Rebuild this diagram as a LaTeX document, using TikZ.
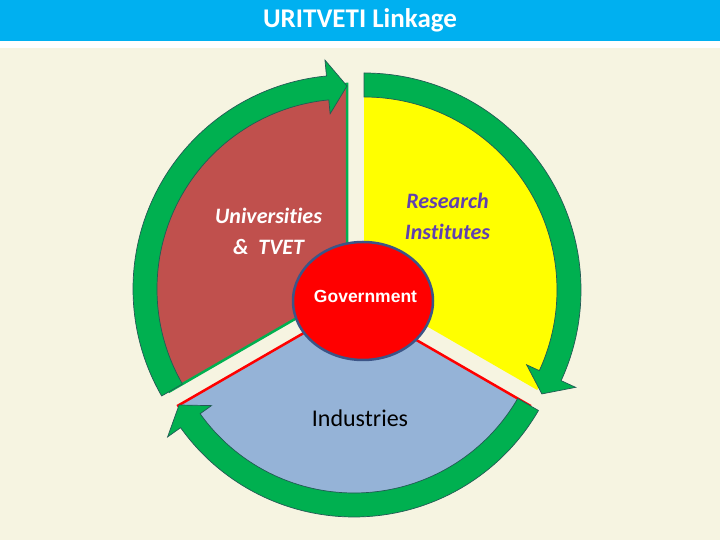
\documentclass[tikz,border=0pt]{standalone}
\usepackage{fontspec}
\setmainfont{Carlito}[Ligatures=NoCommon]
\newfontfamily\arialfont{Liberation Sans}
\usetikzlibrary{calc,shapes.geometric}
\definecolor{cream}{RGB}{246,244,225}
\definecolor{titleblue}{RGB}{0,176,240}
\definecolor{secred}{RGB}{192,80,77}
\definecolor{secyellow}{RGB}{255,255,0}
\definecolor{secblue}{RGB}{149,179,215}
\definecolor{arrowgreen}{RGB}{0,176,80}
\definecolor{arrowline}{RGB}{35,90,85}
\definecolor{govline}{RGB}{60,85,135}
\definecolor{resviolet}{RGB}{96,64,176}
\newcommand\greenarrow[5]{% #1 centre, #2 tail angle, #3 head base angle, #4 tip angle, #5 inner radius
  \filldraw[arrowbody] ($(#1)+(#2:#5)$) arc[start angle=#2, end angle=#3, radius=#5]
    -- ($(#1)+(#3:#5-14)$) -- ($(#1)+(#4:#5+13)$) -- ($(#1)+(#3:#5+40)$)
    -- ($(#1)+(#3:#5+24)$) arc[start angle=#3, end angle=#2, radius=#5+24] -- cycle;}
\tikzset{
  arrowbody/.style={fill=arrowgreen, draw=arrowline, line width=0.7, line join=miter},
  sectortext/.style={align=center, font=\bfseries\itshape\fontsize{22}{31}\selectfont},
}
\begin{document}
\begin{tikzpicture}[x=1pt,y=1pt]
\useasboundingbox (0,0) rectangle (720,540);
\fill[cream] (0,0) rectangle (720,492);
\fill[white] (0,492) rectangle (720,499);
\fill[titleblue] (0,499) rectangle (720,540);
\node[text=white, font=\bfseries\fontsize{27}{32}\selectfont] (title) at (360,520) {URITVETI Linkage};

\coordinate (cr) at (347,251);
\coordinate (cy) at (364,250);
\coordinate (cb) at (354,236);

% sectors
\filldraw[fill=secred, draw=arrowgreen, line width=2.5] (cr) -- ($(cr)+(90:205)$) arc[start angle=90, end angle=210, radius=205] -- cycle;
\fill[secyellow] (cy) -- ($(cy)+(90:200)$) arc[start angle=90, end angle=-30, radius=200] -- cycle;
\filldraw[fill=secblue, draw=red, line width=2.5] (cb) -- ($(cb)+(-30:203)$) arc[start angle=-30, end angle=-150, radius=203] -- cycle;

% circular arrows
\greenarrow{cr}{210}{95.5}{90}{190}
\greenarrow{cy}{90}{-24.7}{-30.3}{193}
\greenarrow{cb}{-30}{-144.5}{-150}{189}

% centre
\node[ellipse, draw=govline, line width=2.5, fill=red, minimum width=140, minimum height=118, inner sep=0] (gov) at (363,239) {};
\node[text=white, font=\arialfont\bfseries\fontsize{17.5}{20}\selectfont] (govtext) at (365.5,244) {Government};

\node[sectortext, text=white] (uni) at (268.5,308.5) {Universities\\\&\ \ TVET};
\node[sectortext, text=resviolet] (res) at (447.5,324) {Research\\Institutes};
\node[font=\fontsize{24}{28}\selectfont, text=black] (ind) at (360,122) {Industries};
\end{tikzpicture}
\end{document}
